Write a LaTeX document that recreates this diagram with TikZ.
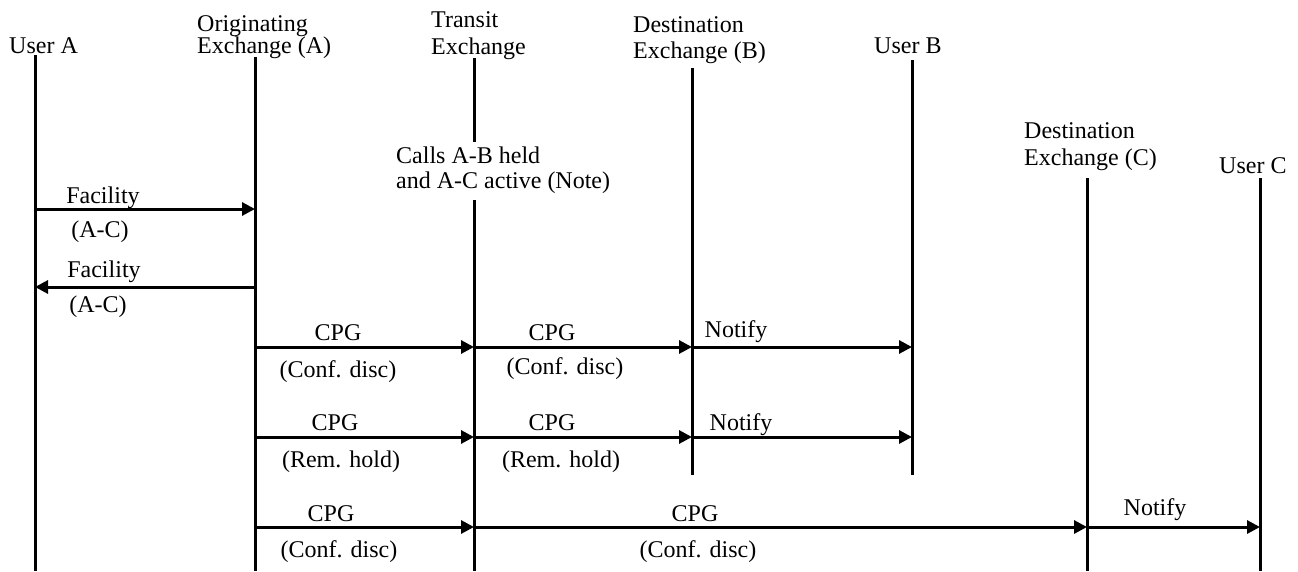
\documentclass[tikz,border=0pt]{standalone}
\usepackage{fontspec}
\setmainfont{Liberation Serif}
\usetikzlibrary{arrows.meta}
\begin{document}
\begin{tikzpicture}[x=1pt,y=-1pt,
  lbl/.style={inner sep=0pt,font=\fontsize{24}{26}\selectfont},
  hd/.style={lbl,anchor=base west},
  ml/.style={lbl,anchor=base},
  life/.style={line width=3pt},
  msg/.style={line width=3pt,-{Triangle[length=13pt,width=13pt]}}]
\useasboundingbox (0,0) rectangle (1298,571);
% headers
\node[hd] (hA) at (9,53) {User A};
\node[hd] (hO1) at (197,31) {Originating};
\node[hd] (hO2) at (197,53) {Exchange (A)};
\node[hd] (hT1) at (431,27) {Transit};
\node[hd] (hT2) at (431,54) {Exchange};
\node[hd] (hB1) at (633,32) {Destination};
\node[hd] (hB2) at (633,58) {Exchange (B)};
\node[hd] (hUB) at (874,53) {User B};
\node[hd] (hC1) at (1024,138) {Destination};
\node[hd] (hC2) at (1024,165) {Exchange (C)};
\node[hd] (hUC) at (1219,173) {User C};
\node[hd] (note1) at (396,163) {Calls A-B held};
\node[hd] (note2) at (396,188) {and A-C active (Note)};
% lifeline coordinates
\coordinate (At) at (35,55);   \coordinate (Ab) at (35,571);
\coordinate (Ot) at (255,57);  \coordinate (Ob) at (255,571);
\coordinate (Tt) at (474,58);  \coordinate (Tm1) at (474,142);
\coordinate (Tm2) at (474,200); \coordinate (Tb) at (474,571);
\coordinate (Bt) at (692,68);  \coordinate (Bb) at (692,475);
\coordinate (UBt) at (912,60); \coordinate (UBb) at (912,475);
\coordinate (Ct) at (1087,178); \coordinate (Cb) at (1087,571);
\coordinate (UCt) at (1260,178); \coordinate (UCb) at (1260,571);
\draw[life] (At) -- (Ab);
\draw[life] (Ot) -- (Ob);
\draw[life] (Tt) -- (Tm1);
\draw[life] (Tm2) -- (Tb);
\draw[life] (Bt) -- (Bb);
\draw[life] (UBt) -- (UBb);
\draw[life] (Ct) -- (Cb);
\draw[life] (UCt) -- (UCb);
% message rows
\coordinate (r1) at (0,209);
\coordinate (r2) at (0,287);
\coordinate (r3) at (0,347);
\coordinate (r4) at (0,437);
\coordinate (r5) at (0,527);
\draw[msg] (At |- r1) -- (Ot |- r1);
\draw[msg] (Ot |- r2) -- (At |- r2);
\draw[msg] (Ot |- r3) -- (Tt |- r3);
\draw[msg] (Tt |- r3) -- (Bt |- r3);
\draw[msg] (Bt |- r3) -- (UBt |- r3);
\draw[msg] (Ot |- r4) -- (Tt |- r4);
\draw[msg] (Tt |- r4) -- (Bt |- r4);
\draw[msg] (Bt |- r4) -- (UBt |- r4);
\draw[msg] (Ot |- r5) -- (Tt |- r5);
\draw[msg] (Tt |- r5) -- (Ct |- r5);
\draw[msg] (Ct |- r5) -- (UCt |- r5);
% labels
\node[ml] (f1) at (103,203) {Facility};
\node[ml] (f1b) at (100,237) {(A-C)};
\node[ml] (f2) at (104,277) {Facility};
\node[ml] (f2b) at (98,312) {(A-C)};
\node[ml] (c1) at (338,340) {CPG};
\node[ml] (c1b) at (338,377) {(Conf. disc)};
\node[ml] (c2) at (552,340) {CPG};
\node[ml] (c2b) at (565,374) {(Conf. disc)};
\node[ml] (n1) at (736,337) {Notify};
\node[ml] (c3) at (335,430) {CPG};
\node[ml] (c3b) at (341,467) {(Rem. hold)};
\node[ml] (c4) at (552,430) {CPG};
\node[ml] (c4b) at (561,467) {(Rem. hold)};
\node[ml] (n2) at (741,430) {Notify};
\node[ml] (c5) at (331,521) {CPG};
\node[ml] (c5b) at (339,557) {(Conf. disc)};
\node[ml] (c6) at (695,521) {CPG};
\node[ml] (c6b) at (698,557) {(Conf. disc)};
\node[ml] (n3) at (1155,515) {Notify};
\end{tikzpicture}
\end{document}
